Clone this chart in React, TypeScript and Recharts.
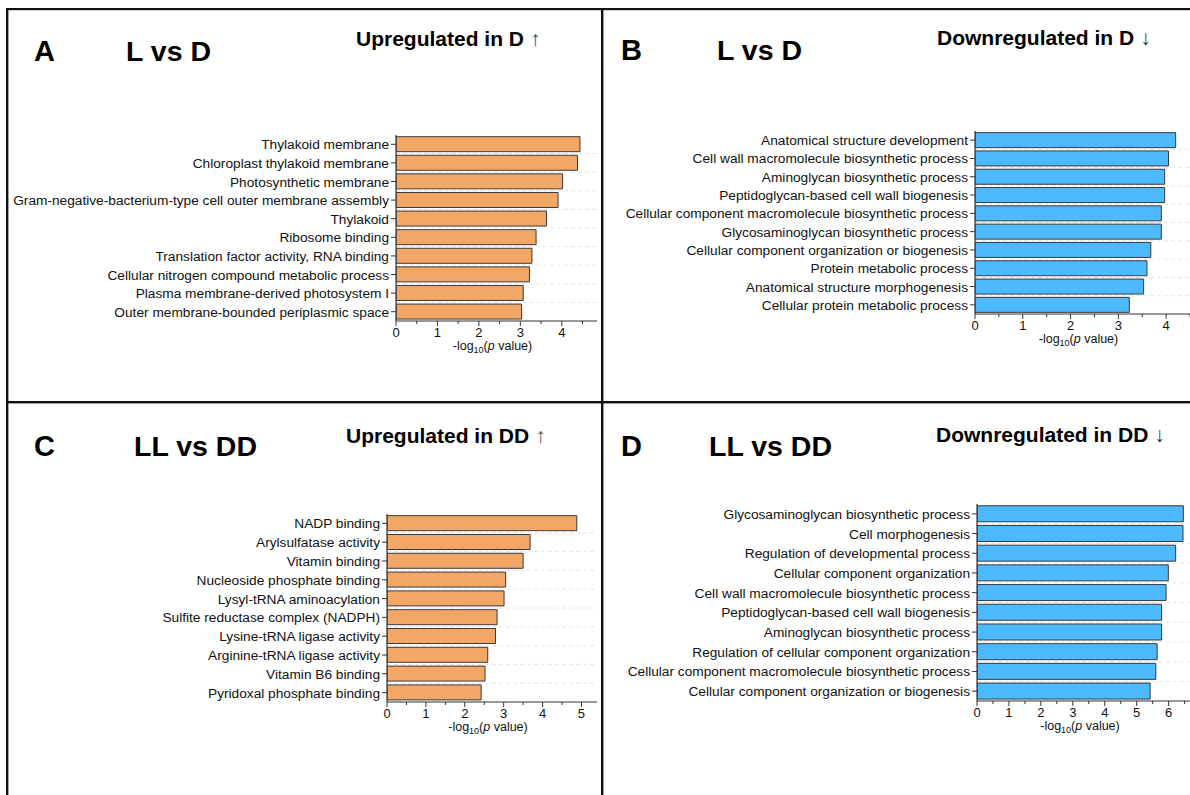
import { Bar, BarChart, CartesianGrid, XAxis, YAxis } from "recharts";

const FONT = "Arial, 'Liberation Sans', Helvetica, sans-serif";

// A: L vs D, up in D
const aTerms = [
  "Thylakoid membrane",
  "Chloroplast thylakoid membrane",
  "Photosynthetic membrane",
  "Gram-negative-bacterium-type cell outer membrane assembly",
  "Thylakoid",
  "Ribosome binding",
  "Translation factor activity, RNA binding",
  "Cellular nitrogen compound metabolic process",
  "Plasma membrane-derived photosystem I",
  "Outer membrane-bounded periplasmic space",
];
const aValues = [4.44, 4.38, 4.02, 3.91, 3.63, 3.38, 3.28, 3.22, 3.07, 3.03];
const aTicks = [0, 0.5, 1, 1.5, 2, 2.5, 3, 3.5, 4, 4.5];

// B: L vs D, down in D
const bTerms = [
  "Anatomical structure development",
  "Cell wall macromolecule biosynthetic process",
  "Aminoglycan biosynthetic process",
  "Peptidoglycan-based cell wall biogenesis",
  "Cellular component macromolecule biosynthetic process",
  "Glycosaminoglycan biosynthetic process",
  "Cellular component organization or biogenesis",
  "Protein metabolic process",
  "Anatomical structure morphogenesis",
  "Cellular protein metabolic process",
];
const bValues = [4.2, 4.05, 3.97, 3.97, 3.9, 3.9, 3.68, 3.6, 3.53, 3.23];
const bTicks = [0, 0.5, 1, 1.5, 2, 2.5, 3, 3.5, 4, 4.5];

// C: LL vs DD, up in DD
const cTerms = [
  "NADP binding",
  "Arylsulfatase activity",
  "Vitamin binding",
  "Nucleoside phosphate binding",
  "Lysyl-tRNA aminoacylation",
  "Sulfite reductase complex (NADPH)",
  "Lysine-tRNA ligase activity",
  "Arginine-tRNA ligase activity",
  "Vitamin B6 binding",
  "Pyridoxal phosphate binding",
];
const cValues = [4.88, 3.68, 3.5, 3.05, 3.01, 2.83, 2.79, 2.59, 2.52, 2.42];
const cTicks = [0, 0.5, 1, 1.5, 2, 2.5, 3, 3.5, 4, 4.5, 5];

// D: LL vs DD, down in DD
const dTerms = [
  "Glycosaminoglycan biosynthetic process",
  "Cell morphogenesis",
  "Regulation of developmental process",
  "Cellular component organization",
  "Cell wall macromolecule biosynthetic process",
  "Peptidoglycan-based cell wall biogenesis",
  "Aminoglycan biosynthetic process",
  "Regulation of cellular component organization",
  "Cellular component macromolecule biosynthetic process",
  "Cellular component organization or biogenesis",
];
const dValues = [6.46, 6.45, 6.22, 5.99, 5.92, 5.78, 5.78, 5.64, 5.6, 5.42];
const dTicks = [0, 0.5, 1, 1.5, 2, 2.5, 3, 3.5, 4, 4.5, 5, 5.5, 6, 6.5];

const ORANGE = "#F3A766";
const BLUE = "#4DB9FE";

const panels = [
  {
    id: "A", terms: aTerms, values: aValues, ticks: aTicks, domain: [0, 4.85],
    color: ORANGE, plotLeft: 396, plotRight: 597, plotTop: 135, plotBottom: 321,
    frameTop: "#b5b5b5", frameRight: "#b5b5b5",
  },
  {
    id: "B", terms: bTerms, values: bValues, ticks: bTicks, domain: [0, 4.5],
    color: BLUE, plotLeft: 975, plotRight: 1190, plotTop: 131, plotBottom: 314,
    frameTop: "#222", frameRight: null,
  },
  {
    id: "C", terms: cTerms, values: cValues, ticks: cTicks, domain: [0, 5.4],
    color: ORANGE, plotLeft: 387, plotRight: 597, plotTop: 514, plotBottom: 702,
    frameTop: "#b5b5b5", frameRight: "#b5b5b5",
  },
  {
    id: "D", terms: dTerms, values: dValues, ticks: dTicks, domain: [0, 6.7],
    color: BLUE, plotLeft: 977, plotRight: 1191, plotTop: 504, plotBottom: 701,
    frameTop: "#222", frameRight: null,
  },
];

const headers = [
  { letter: "A", lx: 34, cmp: "L vs D", cx: 126, by: 61, sub: "Upregulated in D", sx: 356, sy: 46, arrow: "\u2191", arrowColor: "#2a4d73" },
  { letter: "B", lx: 621, cmp: "L vs D", cx: 717, by: 60, sub: "Downregulated in D", sx: 937, sy: 45, arrow: "\u2193", arrowColor: "#333" },
  { letter: "C", lx: 34, cmp: "LL vs DD", cx: 134, by: 456, sub: "Upregulated in DD", sx: 346, sy: 443, arrow: "\u2191", arrowColor: "#555" },
  { letter: "D", lx: 621, cmp: "LL vs DD", cx: 709, by: 456, sub: "Downregulated in DD", sx: 936, sy: 442, arrow: "\u2193", arrowColor: "#333" },
];

function XTick(props: any) {
  const { x, y, payload } = props;
  const v = payload.value;
  const major = Math.abs(v - Math.round(v)) < 1e-6;
  return (
    <g>
      <line x1={x} x2={x} y1={y} y2={y + (major ? 5 : 3)} stroke="#333" strokeWidth={1} />
      {major && (
        <text x={x} y={y + 16} textAnchor="middle" fontSize={13} fill="#111" fontFamily={FONT}>
          {v}
        </text>
      )}
    </g>
  );
}

function YTick(props: any) {
  const { x, y, payload } = props;
  return (
    <g>
      <line x1={x + 2} x2={x + 7} y1={y} y2={y} stroke="#333" strokeWidth={1} />
      <text x={x} y={y} dy={5} textAnchor="end" fontSize={13.7} fill="#111" fontFamily={FONT}>
        {payload.value}
      </text>
    </g>
  );
}

function Panel({ p }: { p: any }) {
  const yw = p.plotLeft - 2;
  const padTop = 6;
  const padRight = 8;
  const xh = 30;
  const width = yw + (p.plotRight - p.plotLeft) + padRight;
  const height = padTop + (p.plotBottom - p.plotTop) + xh;
  const data = p.terms.map((t: string, i: number) => ({ name: t, value: p.values[i] }));
  const n = data.length;
  return (
    <div style={{ position: "absolute", left: p.plotLeft - yw, top: p.plotTop - padTop }}>
      <BarChart
        width={width}
        height={height}
        data={data}
        layout="vertical"
        margin={{ top: padTop, right: padRight, bottom: 0, left: 0 }}
        barCategoryGap="9%"
      >
        <CartesianGrid
          vertical={false}
          strokeDasharray="4 3"
          stroke="#e4e4e4"
          horizontalCoordinatesGenerator={({ offset }: any) =>
            Array.from({ length: n - 1 }, (_, i) => offset.top + ((i + 1) * offset.height) / n)
          }
        />
        <XAxis
          type="number"
          domain={p.domain}
          ticks={p.ticks}
          allowDataOverflow
          height={xh}
          tickSize={0}
          tickMargin={0}
          tick={<XTick />}
          tickLine={false}
          axisLine={{ stroke: "#333", strokeWidth: 1.2 }}
          interval={0}
        />
        <XAxis
          xAxisId="top"
          orientation="top"
          type="number"
          domain={p.domain}
          height={0}
          tick={false}
          tickLine={false}
          axisLine={{ stroke: p.frameTop, strokeWidth: 1.2 }}
        />
        <YAxis
          type="category"
          dataKey="name"
          width={yw}
          interval={0}
          tickSize={7}
          tickMargin={0}
          tick={<YTick />}
          tickLine={false}
          axisLine={{ stroke: "#333", strokeWidth: 1.2 }}
        />
        {p.frameRight && (
          <YAxis
            yAxisId="right"
            orientation="right"
            type="category"
            dataKey="name"
            width={0}
            tick={false}
            tickLine={false}
            axisLine={{ stroke: p.frameRight, strokeWidth: 1.2 }}
          />
        )}
        <Bar dataKey="value" fill={p.color} stroke="#3a3a3a" strokeWidth={1} isAnimationActive={false} />
      </BarChart>
    </div>
  );
}

export default function App() {
  return (
    <div
      style={{
        position: "fixed",
        left: 0,
        top: 0,
        width: 1190,
        height: 795,
        overflow: "hidden",
        background: "#fff",
        fontFamily: FONT,
      }}
    >
      <svg width={1190} height={795} style={{ position: "absolute", left: 0, top: 0 }}>
        {/* panel frame */}
        <rect x={6} y={8} width={1184} height={2.2} fill="#111" />
        <rect x={6} y={8} width={2.4} height={787} fill="#111" />
        <rect x={601} y={8} width={2.4} height={787} fill="#111" />
        <rect x={6} y={401} width={1184} height={2.4} fill="#111" />
        {headers.map((h) => (
          <g key={h.letter} fontFamily={FONT} fill="#000">
            <text x={h.lx} y={h.by} fontSize={29} fontWeight="bold">{h.letter}</text>
            <text x={h.cx} y={h.by} fontSize={28.5} fontWeight="bold">{h.cmp}</text>
            <text x={h.sx} y={h.sy} fontSize={21} fontWeight="bold">
              {h.sub}
              <tspan fontWeight="normal" fill={h.arrowColor} dx={6}>{h.arrow}</tspan>
            </text>
          </g>
        ))}
        {panels.map((p) => (
          <text
            key={p.id}
            x={(p.plotLeft + p.plotRight) / 2 - 4}
            y={p.plotBottom + 29}
            textAnchor="middle"
            fontSize={12.5}
            fontFamily={FONT}
            fill="#111"
          >
            -log
            <tspan fontSize={9} dy={3}>10</tspan>
            <tspan dy={-3}>(</tspan>
            <tspan fontStyle="italic">p</tspan>
            <tspan> value)</tspan>
          </text>
        ))}
      </svg>
      {panels.map((p) => (
        <Panel key={p.id} p={p} />
      ))}
    </div>
  );
}
